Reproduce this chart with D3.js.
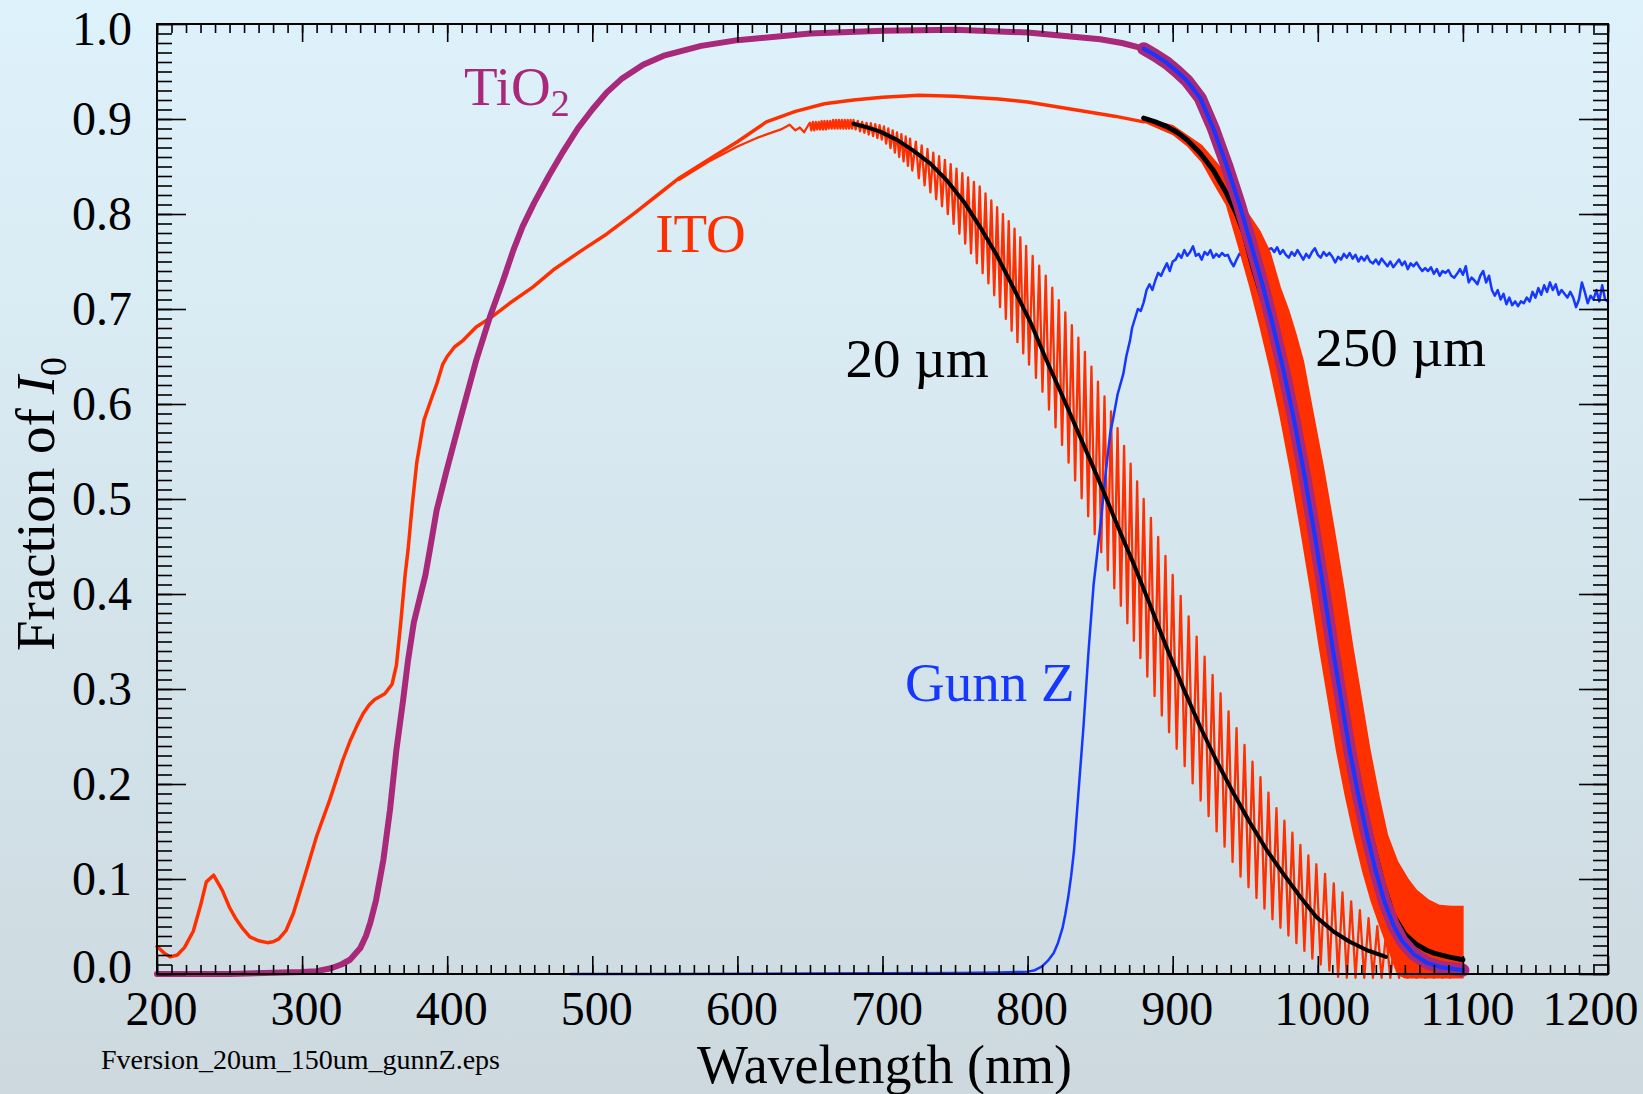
<!DOCTYPE html>
<html>
<head>
<meta charset="utf-8">
<script src="https://cdn.jsdelivr.net/npm/d3@7"></script>
<style>
  html, body { margin: 0; padding: 0; }
  body { width: 1643px; height: 1094px; overflow: hidden; }
  text { font-family: "Liberation Serif", "Times New Roman", serif; }
</style>
</head>
<body>
<div id="chart"></div>
<script>

////////////////////////////////////
////////////// data ////////////////
////////////////////////////////////

// tick labels
const xTickValues = [200, 300, 400, 500, 600, 700, 800, 900, 1000, 1100, 1200]
const yTickValues = [0.0, 0.1, 0.2, 0.3, 0.4, 0.5, 0.6, 0.7, 0.8, 0.9, 1.0]

// [wavelength nm, fraction of I0]
const ito = [
    [200, 0.029], [205, 0.022], [209, 0.018], [214, 0.020], [219, 0.028], [225, 0.045], [230, 0.072],
    [234, 0.097], [239, 0.104], [245, 0.088], [250, 0.070], [254, 0.059], [259, 0.048], [264, 0.039],
    [270, 0.035], [276, 0.033], [280, 0.034], [284, 0.037], [289, 0.046], [294, 0.064], [301, 0.099],
    [310, 0.145], [319, 0.183], [328, 0.225], [333, 0.245], [338, 0.262], [342, 0.274], [346, 0.283],
    [350, 0.289], [357, 0.295], [362, 0.305], [365, 0.325], [368, 0.370], [371, 0.420], [373, 0.446],
    [376, 0.495], [379, 0.538], [384, 0.583], [389, 0.605], [393, 0.622], [397, 0.642], [400, 0.650],
    [405, 0.660], [411, 0.667], [420, 0.681], [431, 0.692], [443, 0.706], [459, 0.723], [473, 0.741],
    [493, 0.762], [510, 0.779], [530, 0.802], [545, 0.820], [560, 0.838], [580, 0.857], [600, 0.876],
    [620, 0.897], [640, 0.908], [660, 0.916], [680, 0.920], [700, 0.923], [725, 0.925], [750, 0.924],
    [780, 0.921], [800, 0.918], [820, 0.913], [840, 0.908], [860, 0.903], [880, 0.897]
]

const tio2 = [
    [200, 0.000], [250, 0.000], [300, 0.002], [310, 0.003], [320, 0.006], [327, 0.010], [333, 0.015],
    [340, 0.027], [344, 0.040], [347, 0.054], [351, 0.078], [356, 0.120], [360.6, 0.173], [365, 0.236],
    [369.6, 0.288], [373, 0.330], [377, 0.370], [381, 0.395], [385, 0.420], [388, 0.446], [392.7, 0.488],
    [399.6, 0.530], [408.8, 0.583], [420, 0.646], [429.5, 0.692], [438.5, 0.730], [445.6, 0.762],
    [452, 0.787], [460, 0.812], [470, 0.840], [480, 0.866], [490, 0.890], [500, 0.910], [510, 0.928],
    [520, 0.942], [535, 0.957], [550, 0.967], [575, 0.977], [600, 0.983], [650, 0.990], [700, 0.993],
    [750, 0.994], [800, 0.991], [850, 0.984], [865, 0.980], [880, 0.974]
]

// 250 um TiO2 (purple band, blue mean)
const tio2Tail250 = [
    [880, 0.974], [888, 0.967], [896, 0.959], [903, 0.950], [910, 0.940], [919, 0.922], [928, 0.890],
    [937, 0.852], [946, 0.810], [954, 0.768], [962, 0.725], [969, 0.683], [976, 0.638], [983, 0.588],
    [990, 0.532], [997, 0.470], [1004, 0.405], [1010, 0.345], [1016, 0.290], [1022, 0.235], [1028, 0.188],
    [1034, 0.146], [1040, 0.108], [1046, 0.076], [1052, 0.052], [1058, 0.035], [1066, 0.021],
    [1075, 0.012], [1085, 0.007], [1100, 0.004]
]

// 250 um ITO fringes: too dense to resolve, upper and lower edge of the red band
const band250Upper = [
    [880, 0.901], [900, 0.893], [920, 0.872], [935, 0.845], [945, 0.815], [952, 0.800], [960, 0.782],
    [967, 0.760], [974, 0.723], [980, 0.698], [985, 0.673], [990, 0.645], [997, 0.588], [1004, 0.532],
    [1011, 0.470], [1018, 0.405], [1024, 0.345], [1030, 0.290], [1036, 0.235], [1042, 0.188],
    [1048, 0.146], [1055, 0.118], [1062, 0.100], [1068, 0.088], [1076, 0.078], [1084, 0.072],
    [1092, 0.071], [1100, 0.071]
]
const band250Lower = [
    [880, 0.897], [900, 0.884], [910, 0.872], [920, 0.855], [930, 0.828], [937, 0.810], [945, 0.768],
    [953, 0.725], [960, 0.683], [967, 0.638], [974, 0.588], [981, 0.532], [988, 0.470], [995, 0.405],
    [1001, 0.345], [1007, 0.290], [1013, 0.235], [1019, 0.188], [1025, 0.146], [1031, 0.108],
    [1037, 0.076], [1043, 0.050], [1049, 0.025], [1055, 0.000], [1060, -0.004], [1100, -0.004]
]
const mean250 = [
    [880, 0.901], [888, 0.897], [896, 0.892], [903, 0.886], [910, 0.878], [919, 0.864], [928, 0.846],
    [937, 0.822], [944, 0.800], [949, 0.780], [955, 0.745], [965, 0.695], [975, 0.635], [985, 0.565],
    [995, 0.480], [1005, 0.395], [1015, 0.305], [1025, 0.225], [1035, 0.155], [1045, 0.095],
    [1052, 0.062], [1060, 0.042], [1068, 0.031], [1075, 0.025], [1080, 0.022], [1090, 0.018], [1100, 0.015]
]

// 20 um ITO: lead-in then peak / trough of each fringe
const fringe20 = [
    [560, 0.836], [580, 0.855], [600, 0.871], [615, 0.881], [630, 0.889], [636, 0.894], [640, 0.888],
    [643, 0.891], [646, 0.886], [649, 0.894],
    [650, 0.896], [651, 0.888], [652, 0.897], [653, 0.888], [654, 0.897], [655, 0.889], [656, 0.897],
    [657, 0.889], [658, 0.898], [659, 0.889], [660, 0.898], [661, 0.889], [662, 0.898], [663, 0.890],
    [664, 0.898], [665, 0.890], [666, 0.899], [667, 0.890], [668, 0.899], [669, 0.890], [670, 0.899],
    [671, 0.890], [672, 0.899], [673, 0.890], [674, 0.899], [675, 0.890], [676, 0.899], [677, 0.890],
    [678, 0.899], [679, 0.890],
    [680, 0.899], [681.5, 0.889], [683, 0.898], [684.5, 0.887], [686, 0.897], [687.5, 0.8855],
    [689, 0.896], [690.5, 0.8837], [692, 0.8955], [693.5, 0.882], [695, 0.8945], [696.5, 0.880],
    [698, 0.8935], [699.5, 0.8783], [701, 0.8923], [702.5, 0.8741], [704, 0.890], [705.5, 0.8694],
    [707, 0.888], [708.5, 0.8647], [710, 0.886], [711.5, 0.860], [713, 0.884], [714.5, 0.8553],
    [716, 0.8816], [717.5, 0.8506], [719, 0.8794], [720.5, 0.8458],
    [723, 0.8761], [725, 0.8376], [727, 0.8723], [729, 0.8302], [731, 0.8684], [733, 0.8228],
    [735, 0.8646], [737, 0.8155], [739, 0.8608], [741, 0.8081], [743, 0.8570], [745, 0.7999],
    [747, 0.8525], [749, 0.7895], [751, 0.8478], [753, 0.7792], [755, 0.8431], [757, 0.7688],
    [759, 0.8384], [761, 0.7585], [763, 0.8337], [765, 0.7481], [767, 0.8290], [769, 0.7378],
    [771, 0.8217], [773, 0.7269], [775, 0.8144], [777, 0.7144], [779, 0.8071], [781, 0.7020],
    [783, 0.7998], [785, 0.6896], [787, 0.7925], [789, 0.6771], [791, 0.7847], [793, 0.6651],
    [795, 0.7755], [797, 0.6533], [799, 0.7663], [801, 0.6414],
    [803.5, 0.7560], [805.75, 0.6275], [808, 0.7456], [810.25, 0.6128], [812.5, 0.7352], [814.75, 0.5941],
    [817, 0.7224], [819.25, 0.5754], [821.5, 0.7094], [823.75, 0.5568], [826, 0.6963], [828.25, 0.5382],
    [830.5, 0.6830], [832.75, 0.5195], [835, 0.6699], [837.25, 0.5007], [839.5, 0.6548], [841.75, 0.4818],
    [844, 0.6392], [846.25, 0.4628], [848.5, 0.6235], [850.75, 0.4439], [853, 0.6079], [855.25, 0.4249],
    [857.5, 0.5922], [859.75, 0.4060], [862, 0.5746], [864.25, 0.3876], [866.5, 0.5559], [868.75, 0.3692],
    [871, 0.5373], [873.25, 0.3508], [875.5, 0.5186], [877.75, 0.3325], [880, 0.5000], [882.5, 0.3130],
    [885, 0.4800], [887.5, 0.2926], [890, 0.4600], [892.5, 0.2721], [895, 0.4400], [897.5, 0.2544],
    [900, 0.4200], [902.75, 0.2371],
    [905.5, 0.3980], [908.25, 0.2188], [911, 0.3765], [913.75, 0.2006], [916.5, 0.3552], [919.25, 0.1825],
    [922, 0.3340], [924.75, 0.1661], [927.5, 0.3148], [930.25, 0.1501], [933, 0.2955], [935.75, 0.1340],
    [938.5, 0.2764], [941.25, 0.1179], [944, 0.2588], [946.75, 0.1025], [949.5, 0.2412], [952.25, 0.0913],
    [955, 0.2235], [957.75, 0.0800], [960.5, 0.2072], [963.25, 0.0688], [966, 0.1908], [968.75, 0.0576],
    [971.5, 0.1745], [974.25, 0.0487], [977, 0.1614], [979.75, 0.0405], [982.5, 0.1487], [985.25, 0.0324],
    [988, 0.1360], [990.75, 0.0243], [993.5, 0.1248], [996.25, 0.0162], [999, 0.1155], [1002, 0.0100],
    [1005, 0.1054], [1008, 0.0035], [1011, 0.0954], [1014, -0.003], [1017, 0.0859], [1020, -0.004],
    [1023, 0.0764], [1026, -0.004], [1029, 0.0672], [1032, -0.004], [1035, 0.0588], [1038, -0.004],
    [1041, 0.0504], [1044, -0.004], [1047, 0.0420], [1050, -0.004], [1053, 0.0376], [1056, -0.004],
    [1059, 0.0331], [1062, -0.004], [1065, 0.0287], [1068, -0.004], [1071, 0.0244], [1074, -0.004],
    [1077, 0.0205], [1080, -0.004], [1083, 0.0166], [1086, -0.004], [1089, 0.0127], [1091, -0.004]
]
const mean20 = [
    [680, 0.895], [690, 0.891], [698, 0.887], [710, 0.878], [721, 0.867], [733, 0.853], [744, 0.836],
    [756, 0.813], [767, 0.787], [779, 0.756], [790, 0.723], [802, 0.686], [813, 0.646], [825, 0.605],
    [836, 0.566], [844, 0.538], [852, 0.509], [859, 0.483], [866, 0.457], [873, 0.432], [884, 0.390],
    [896, 0.343], [907, 0.302], [919, 0.260], [930, 0.225], [942, 0.190], [953, 0.160], [965, 0.130],
    [976, 0.106], [988, 0.081], [999, 0.060], [1011, 0.0445], [1022, 0.034], [1034, 0.025], [1047, 0.018]
]

const gunnZ = [
    [485, 0.000], [550, 0.000], [650, 0.0005], [750, 0.001], [780, 0.0015], [800, 0.0025], [805, 0.004],
    [810, 0.008], [814, 0.014], [818, 0.022], [821, 0.033], [824, 0.048], [826, 0.063], [828, 0.081],
    [830, 0.103], [832, 0.130], [834, 0.170], [836, 0.210], [838.5, 0.260], [842, 0.340], [845.5, 0.410],
    [850, 0.470], [854, 0.530], [857, 0.570], [859, 0.585], [862, 0.610], [866, 0.632], [868, 0.650],
    [870.6, 0.667], [872, 0.680], [874, 0.690], [876, 0.700], [878, 0.698], [880, 0.707], [882, 0.720],
    [884, 0.726], [886, 0.720], [888, 0.730], [890, 0.738], [892, 0.735], [894, 0.742], [896, 0.748],
    [898, 0.740], [900, 0.750], [902, 0.752], [904, 0.758], [906, 0.754], [908, 0.762], [910, 0.756],
    [912, 0.760], [914, 0.766], [916, 0.756], [918, 0.758], [920, 0.752], [922, 0.760], [924, 0.757],
    [926, 0.762], [928, 0.754], [930, 0.758], [932, 0.755], [934, 0.759], [936, 0.756], [938, 0.757],
    [940, 0.750], [942, 0.745], [944, 0.752], [946, 0.758], [948, 0.756], [955, 0.760], [960, 0.758],
    [965, 0.762], [968, 0.764], [970, 0.760], [972, 0.765], [974, 0.758], [976, 0.762], [978, 0.757],
    [980, 0.754], [982, 0.760], [984, 0.756], [986, 0.762], [988, 0.757], [990, 0.752], [992, 0.758],
    [994, 0.754], [996, 0.760], [998, 0.764], [1000, 0.757], [1002, 0.754], [1004, 0.760], [1006, 0.756],
    [1008, 0.759], [1010, 0.755], [1012, 0.749], [1014, 0.755], [1016, 0.752], [1018, 0.758], [1020, 0.754],
    [1022, 0.759], [1024, 0.753], [1026, 0.757], [1028, 0.750], [1030, 0.755], [1032, 0.751], [1034, 0.756],
    [1036, 0.750], [1038, 0.748], [1040, 0.752], [1042, 0.747], [1044, 0.753], [1046, 0.749], [1048, 0.745],
    [1050, 0.750], [1052, 0.744], [1054, 0.748], [1056, 0.752], [1058, 0.746], [1060, 0.750], [1062, 0.742],
    [1064, 0.748], [1066, 0.745], [1068, 0.749], [1070, 0.744], [1072, 0.740], [1074, 0.743], [1076, 0.740],
    [1078, 0.744], [1080, 0.737], [1082, 0.742], [1084, 0.735], [1086, 0.740], [1088, 0.738], [1090, 0.741],
    [1092, 0.735], [1094, 0.733], [1096, 0.737], [1098, 0.742], [1100, 0.736], [1102, 0.745], [1104, 0.728],
    [1106, 0.733], [1108, 0.730], [1110, 0.726], [1112, 0.735], [1114, 0.740], [1116, 0.728], [1118, 0.735],
    [1120, 0.720], [1122, 0.714], [1124, 0.720], [1126, 0.710], [1128, 0.716], [1130, 0.705], [1132, 0.712],
    [1134, 0.704], [1136, 0.708], [1138, 0.703], [1140, 0.708], [1142, 0.706], [1144, 0.712], [1146, 0.708],
    [1148, 0.718], [1150, 0.712], [1152, 0.722], [1154, 0.715], [1156, 0.725], [1158, 0.718], [1160, 0.728],
    [1162, 0.720], [1164, 0.726], [1166, 0.715], [1168, 0.720], [1170, 0.716], [1172, 0.712], [1174, 0.718],
    [1176, 0.712], [1178, 0.702], [1180, 0.710], [1182, 0.728], [1184, 0.718], [1186, 0.706], [1188, 0.714],
    [1190, 0.710], [1192, 0.720], [1194, 0.708], [1196, 0.725], [1198, 0.710], [1200, 0.708]
]

////////////////////////////////////
//////////// SVG Setup /////////////
////////////////////////////////////

const svgWidth = 1643
const svgHeight = 1094

const margin = { left: 157, right: 35, top: 24, bottom: 120 }
const width = svgWidth - margin.left - margin.right
const height = svgHeight - margin.top - margin.bottom

const root = d3.select('#chart')
    .append('svg')
    .attr('width', svgWidth)
    .attr('height', svgHeight)

// page background, light blue fading to grey
const grad = root.append('defs').append('linearGradient')
    .attr('id', 'bg')
    .attr('x1', 0).attr('y1', 0).attr('x2', 0).attr('y2', 1)
grad.append('stop').attr('offset', 0).attr('stop-color', '#def2fb')
grad.append('stop').attr('offset', 1).attr('stop-color', '#cdd9df')

root.append('rect')
    .attr('width', svgWidth)
    .attr('height', svgHeight)
    .attr('fill', 'url(#bg)')

const svg = root.append('g')
    .attr('transform', 'translate(' + margin.left + ',' + margin.top + ')')

////////////////////////////////////
//////////////globals///////////////
////////////////////////////////////

const red = '#ff3000'
const purple = '#a8287a'
const blue = '#1537ff'

////////////////////////////////////
//////////////scales////////////////
////////////////////////////////////

const xScale = d3.scaleLinear().domain([200, 1200]).range([0, width])
const yScale = d3.scaleLinear().domain([0, 1]).range([height, 0])

const line = d3.line()
    .x(d => xScale(d[0]))
    .y(d => yScale(d[1]))

////////////////////////////////////
////////////// curves //////////////
////////////////////////////////////

function drawLine(data, color, w) {
    svg.append('path')
        .datum(data)
        .attr('d', line)
        .attr('fill', 'none')
        .attr('stroke', color)
        .attr('stroke-width', w)
        .attr('stroke-linejoin', 'round')
        .attr('stroke-linecap', 'round')
}

drawLine(ito, red, 3.5)
drawLine(fringe20, red, 2.3)
drawLine(gunnZ, blue, 2.5)
drawLine(mean20, 'black', 4)

// red band for 250 um: upper edge then lower edge backwards
svg.append('path')
    .attr('d', line(band250Upper.concat(band250Lower.slice().reverse())) + 'Z')
    .attr('fill', red)
    .attr('stroke', red)
    .attr('stroke-width', 1.5)

drawLine(mean250, 'black', 5)
drawLine(tio2, purple, 6)
drawLine(tio2Tail250, purple, 13)
drawLine(tio2Tail250, blue, 4)

////////////////////////////////////
///////////////axis/////////////////
////////////////////////////////////

const minorX = d3.range(200, 1201, 10)
const minorY = d3.range(0, 101, 1).map(d => d / 100)

function tickGroup(axis, transform) {
    const g = svg.append('g')
        .attr('transform', transform)
        .call(axis.tickSizeOuter(0))
    g.select('.domain').remove()
    g.selectAll('.tick line').attr('stroke', 'black').attr('stroke-width', 1.6)
    return g
}

// minor ticks all four sides
tickGroup(d3.axisBottom(xScale).tickValues(minorX).tickSize(-9).tickFormat(''), 'translate(0,' + height + ')')
tickGroup(d3.axisTop(xScale).tickValues(minorX).tickSize(-9).tickFormat(''), 'translate(0,0)')
tickGroup(d3.axisLeft(yScale).tickValues(minorY).tickSize(-15).tickFormat(''), 'translate(0,0)')
tickGroup(d3.axisRight(yScale).tickValues(minorY).tickSize(-15).tickFormat(''), 'translate(' + width + ',0)')

// major ticks with labels
const xAxis = tickGroup(d3.axisBottom(xScale).tickValues(xTickValues).tickSize(-18).tickPadding(17).tickFormat(d3.format('d')),
    'translate(0,' + height + ')')
tickGroup(d3.axisTop(xScale).tickValues(xTickValues).tickSize(-18).tickFormat(''), 'translate(0,0)')
const yAxis = tickGroup(d3.axisLeft(yScale).tickValues(yTickValues).tickSize(-29).tickPadding(25).tickFormat(d3.format('.1f')),
    'translate(0,0)')
tickGroup(d3.axisRight(yScale).tickValues(yTickValues).tickSize(-29).tickFormat(''), 'translate(' + width + ',0)')

xAxis.attr('font-size', null).attr('font-family', null)
xAxis.selectAll('text')
    .attr('fill', 'black')
    .style('font-size', '48px')
    .attr('dx', d => d === 1200 ? -18 : 4)

yAxis.attr('font-size', null).attr('font-family', null)
yAxis.selectAll('text')
    .attr('fill', 'black')
    .style('font-size', '48px')
    .attr('dy', d => d === 0 ? '0.17em' : d === 1 ? '0.42em' : '0.33em')

// frame
svg.append('rect')
    .attr('width', width)
    .attr('height', height)
    .attr('fill', 'none')
    .attr('stroke', 'black')
    .attr('stroke-width', 2)

////////////////////////////////////
////////////// labels //////////////
////////////////////////////////////

svg.append('text')
    .attr('x', xScale(700) + 2)
    .attr('y', height + 109)
    .attr('text-anchor', 'middle')
    .style('font-size', '54px')
    .text('Wavelength (nm)')

const yTitle = root.append('text')
    .attr('transform', 'translate(54,504) rotate(-90)')
    .attr('text-anchor', 'middle')
    .style('font-size', '55px')
yTitle.append('tspan').text('Fraction of ')
yTitle.append('tspan').style('font-style', 'italic').text('I')
yTitle.append('tspan').attr('dy', 12).style('font-size', '38px').text('0')

root.append('text')
    .attr('x', 101)
    .attr('y', 1069)
    .style('font-size', '28px')
    .text('Fversion_20um_150um_gunnZ.eps')

function note(text, nm, val, color) {
    return svg.append('text')
        .attr('x', xScale(nm))
        .attr('y', yScale(val))
        .attr('fill', color)
        .style('font-size', '55px')
        .text(text)
}

const tLabel = note('TiO', 411.6, 0.915, purple)
tLabel.append('tspan').attr('dy', 11).style('font-size', '38px').text('2')
note('ITO', 543.3, 0.760, red)
note('20 \u00b5m', 674.5, 0.628, 'black')
note('250 \u00b5m', 998.2, 0.640, 'black')
note('Gunn Z', 715.5, 0.287, blue)

</script>
</body>
</html>
